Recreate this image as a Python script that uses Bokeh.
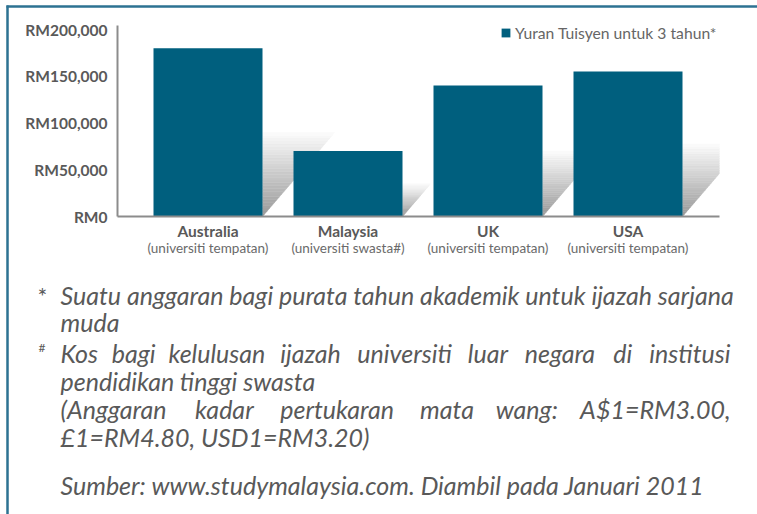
from bokeh.plotting import figure
from bokeh.models import Range1d, FixedTicker, Legend, LegendItem, ColumnDataSource
from bokeh.core.properties import value
from bokeh.embed import file_html
from bokeh.resources import INLINE

# ---------------- data ----------------
categories = ["Australia", "Malaysia", "UK", "USA"]
subtitles = ["(universiti tempatan)", "(universiti swasta#)", "(universiti tempatan)", "(universiti tempatan)"]
fees = [180000, 70000, 140000, 155000]
y_ticks = [0, 50000, 100000, 150000, 200000]
y_tick_labels = ["RM0", "RM50,000", "RM100,000", "RM150,000", "RM200,000"]
series_name = "Yuran Tuisyen untuk 3 tahun*"

note1 = "Suatu anggaran bagi purata tahun akademik untuk ijazah sarjana"
note1b = "muda"
note2_words = ["Kos", "bagi", "kelulusan", "ijazah", "universiti", "luar", "negara", "di", "institusi"]
note2b = "pendidikan tinggi swasta"
note3_words = ["(Anggaran", "kadar", "pertukaran", "mata", "wang:", "A$1=RM3.00,"]
note3b = "£1=RM4.80, USD1=RM3.20)"
source_note = "Sumber: www.studymalaysia.com. Diambil pada Januari 2011"

# ---------------- layout (page pixel geometry) ----------------
W, H = 757, 514
FL, FR, FT, FB = 117, 719, 25, 216
PX_PER_VAL = 187 / 200000
PX_PER_CAT = 140
X0 = 0.5 - (207.5 - FL) / PX_PER_CAT

BAR = "#005f7e"
GREY = "#595959"
NOTE_SIZE = 25
# approximate word widths (px) of Lato italic at 22px, used to justify lines
W22_note2 = [32, 33, 82, 51, 83, 32, 63, 16, 71]
W22_note3 = [95, 51, 100, 46, 47, 132]


def xv(px):
    return X0 + (px - FL) / PX_PER_CAT


def yv(py):
    return (FB - py) / PX_PER_VAL


p = figure(width=W, height=H, output_backend="svg", toolbar_location=None, title=None,
           x_range=Range1d(X0, xv(FR)), y_range=Range1d(0, yv(FT)),
           min_border_left=FL, min_border_right=W - FR,
           min_border_top=FT, min_border_bottom=H - FB)
p.outline_line_color = None
p.grid.visible = False
p.background_fill_color = "white"
p.border_fill_color = "white"

xs = [i + 0.5 for i in range(len(categories))]

# y axis
p.yaxis.ticker = FixedTicker(ticks=y_ticks)
p.yaxis.major_label_overrides = dict(zip(y_ticks, y_tick_labels))
p.yaxis.axis_line_color = "#8c8c8c"
p.yaxis.axis_line_width = 2
p.yaxis.major_tick_line_color = None
p.yaxis.minor_tick_line_color = None
p.yaxis.major_tick_out = 0
p.yaxis.major_tick_in = 0
p.yaxis.major_label_standoff = 10
p.yaxis.major_label_text_font = "Lato"
p.yaxis.major_label_text_font_style = "bold"
p.yaxis.major_label_text_font_size = "15.5px"
p.yaxis.major_label_text_color = GREY

# x axis
p.xaxis.ticker = FixedTicker(ticks=xs)
p.xaxis.major_label_overrides = dict(zip(xs, categories))
p.xaxis.axis_line_color = "#8c8c8c"
p.xaxis.axis_line_width = 2
p.xaxis.major_tick_line_color = None
p.xaxis.minor_tick_line_color = None
p.xaxis.major_tick_out = 0
p.xaxis.major_tick_in = 0
p.xaxis.major_label_standoff = 5
p.xaxis.major_label_text_font = "Lato"
p.xaxis.major_label_text_font_style = "bold"
p.xaxis.major_label_text_font_size = "15.5px"
p.xaxis.major_label_text_color = GREY

# shadows (gradient strips)
bar_w = 109 / PX_PER_CAT
N = 30
sxs, sys, scol = [], [], []
for xc, v in zip(xs, fees):
    r = xc + bar_w / 2
    hv = v / 2
    d = 0.86 * (hv * PX_PER_VAL) / PX_PER_CAT
    for k in range(N):
        t0, t1 = k / N, (k + 1) / N
        sxs.append([r, r + d * t0, r + d * t1, r])
        sys.append([t0 * hv, t0 * hv, t1 * hv, t1 * hv])
        c = int(152 + (252 - 152) * (t0 + t1) / 2)
        scol.append("#%02x%02x%02x" % (c, c, c))
p.patches(sxs, sys, fill_color=scol, line_color=scol, line_width=0.5)

src = ColumnDataSource(dict(x=xs, top=fees))
bars = p.vbar(x="x", top="top", width=bar_w, source=src, fill_color=BAR, line_color=None)

legend = Legend(items=[LegendItem(label=series_name, renderers=[bars])],
                location=(500 - FL, 174), glyph_width=11, glyph_height=11,
                label_height=19, label_standoff=4, padding=0, margin=0, spacing=0,
                border_line_alpha=0, background_fill_alpha=0,
                label_text_font="Lato", label_text_font_size="15.7px", label_text_color="#666666")
p.add_layout(legend)


def txt(xs_px, ys_px, texts, size, style="normal", align="left", baseline="alphabetic", color=GREY):
    p.text(x=[xv(a) for a in xs_px], y=[yv(b) for b in ys_px], text=texts,
           text_font=value("Lato"), text_font_style=style, text_font_size=size,
           text_color=color, text_align=align, text_baseline=baseline, level="overlay")


def justified(words, widths22, left, right, base):
    s = NOTE_SIZE / 22
    ws = [w * s for w in widths22]
    gap = (right - left - sum(ws)) / (len(ws) - 1)
    centers, x = [], left
    for w in ws:
        centers.append(x + w / 2)
        x += w + gap
    txt(centers[1:-1], [base] * (len(words) - 2), words[1:-1], "%dpx" % NOTE_SIZE, "italic", align="center")
    txt([left], [base], words[:1], "%dpx" % NOTE_SIZE, "italic", align="left")
    txt([right], [base], words[-1:], "%dpx" % NOTE_SIZE, "italic", align="right")


# subtitles under category names
sub_px = [FL + (xc - X0) * PX_PER_CAT for xc in xs]
txt(sub_px, [247] * len(xs), subtitles, "13.5px", baseline="middle", align="center", color="#6a6a6a")

# footnote markers
txt([37], [295], ["*"], "23px")
txt([38], [347], ["#"], "12px")

# footnotes (plain lines)
txt([60] * 5, [294, 321, 380, 436, 484], [note1, note1b, note2b, note3b, source_note],
    "%dpx" % NOTE_SIZE, "italic")

# justified lines
justified(note2_words, W22_note2, 60, 730, 352)
justified(note3_words, W22_note3, 60, 730, 408)

# frame border (top and left)
bt = p.line([xv(6), xv(760)], [yv(6), yv(6)], line_color="#2d7292", line_width=2.5)
bl = p.line([xv(7), xv(7)], [yv(5), yv(520)], line_color="#2d7292", line_width=2.5)
bt.level = "overlay"
bl.level = "overlay"

open("out.html", "w").write(file_html(p, INLINE))
